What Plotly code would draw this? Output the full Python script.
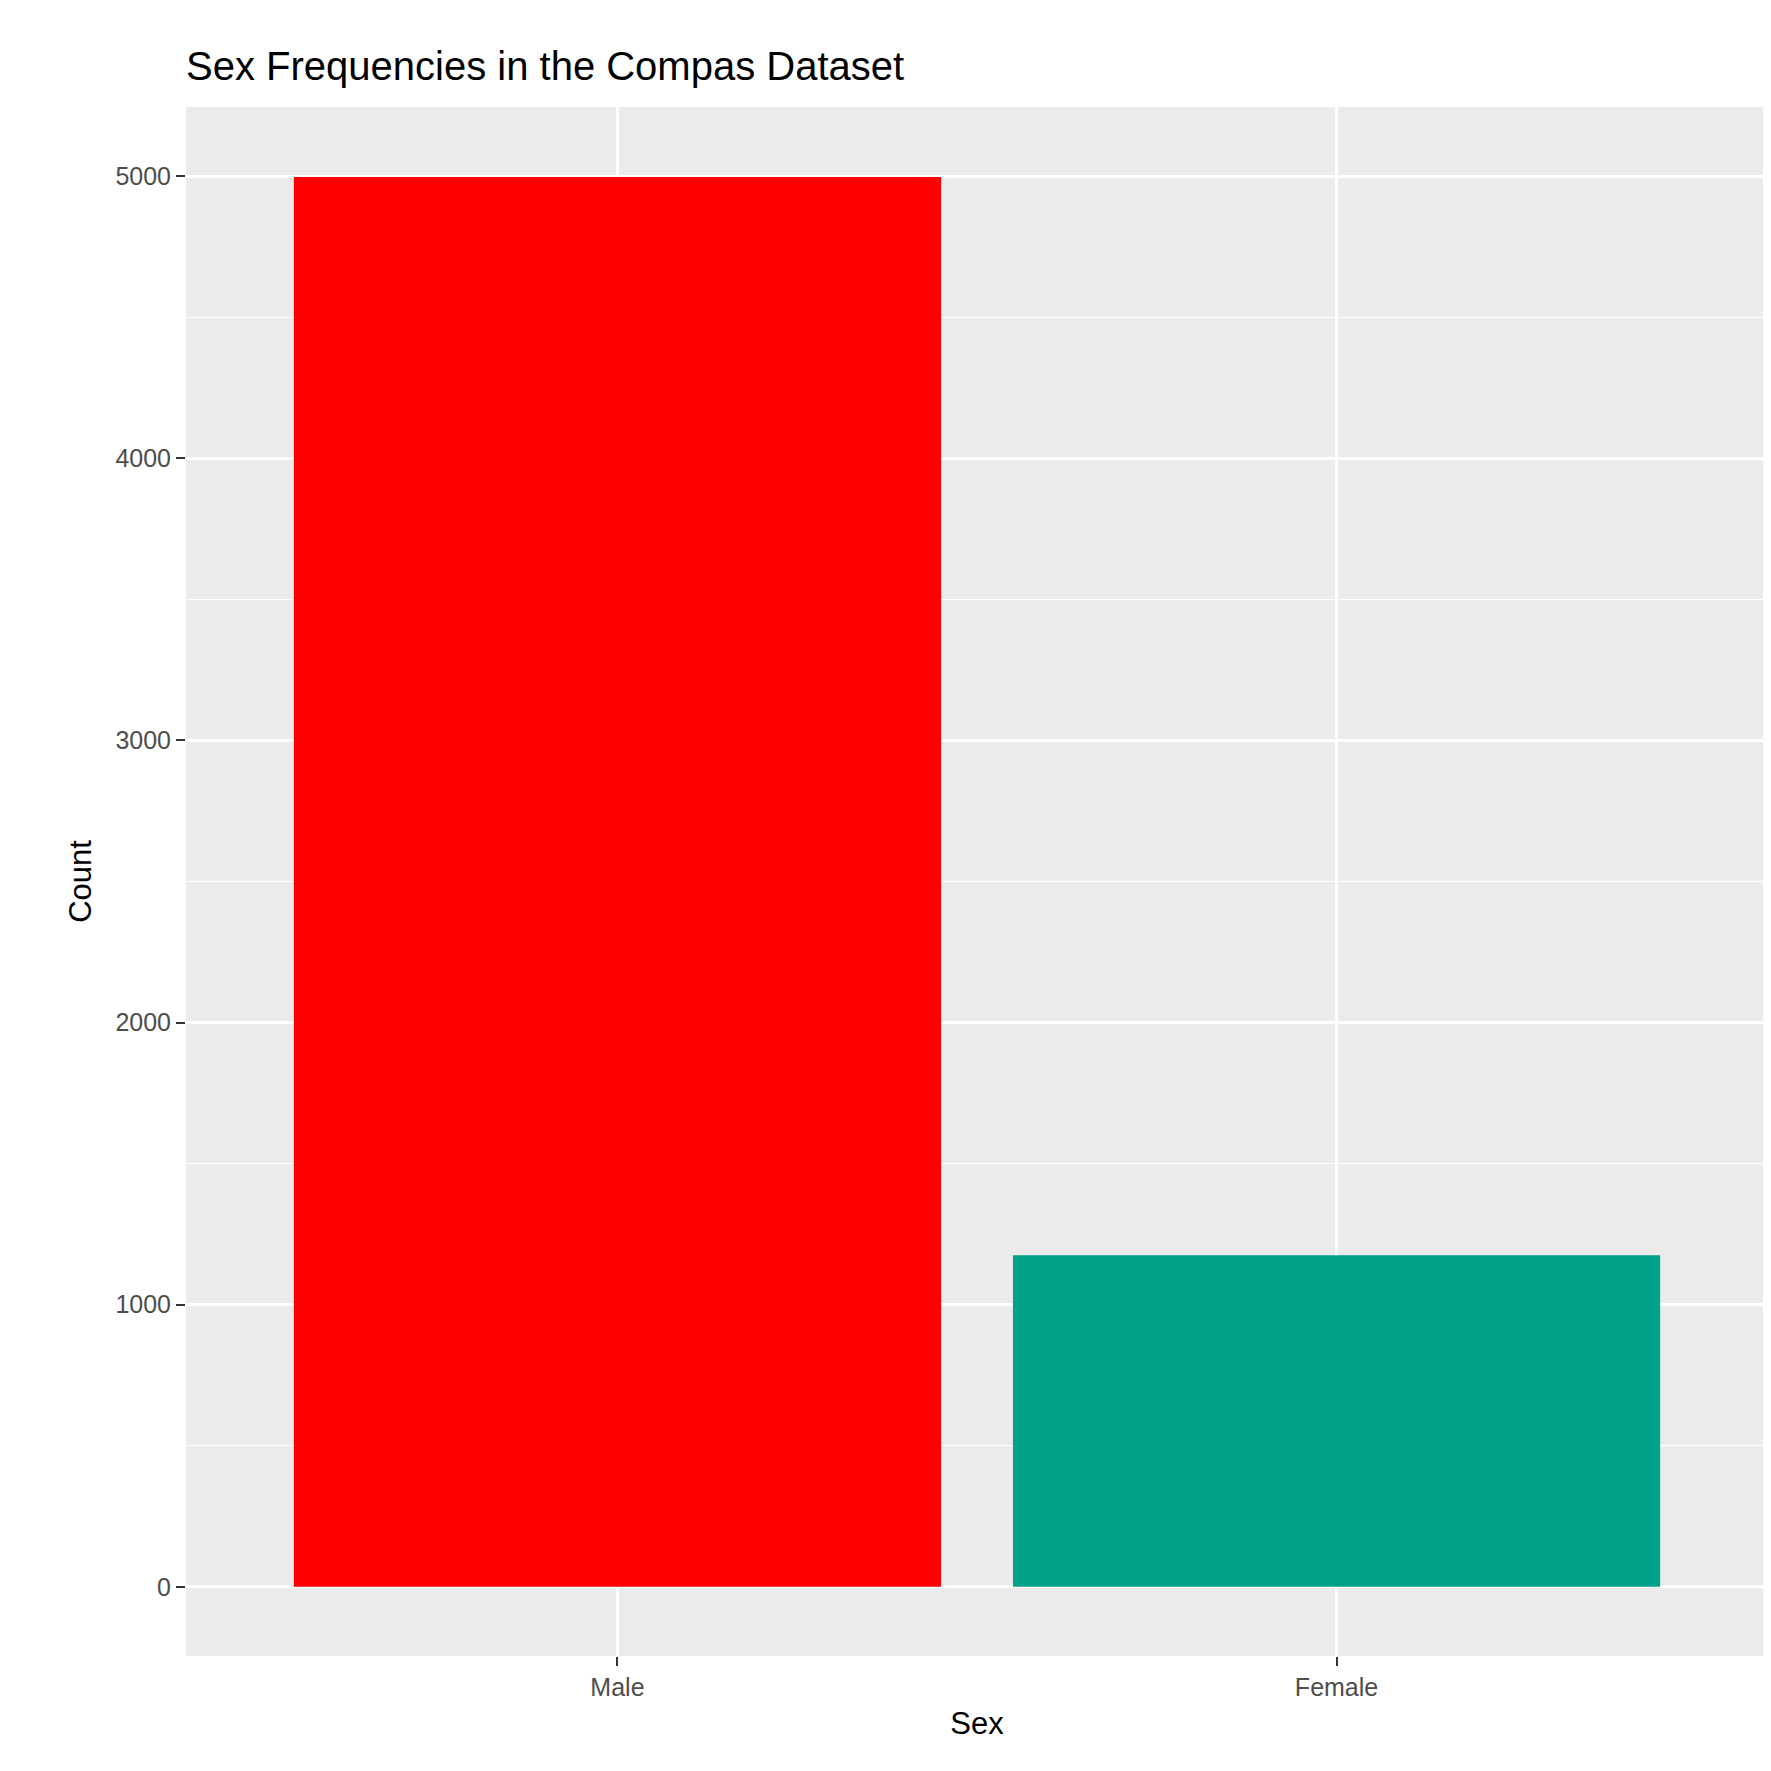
import plotly.graph_objects as go

sexes = ["Male", "Female"]
counts = [4997, 1175]
bar_colors = ["#FF0000", "#00A38A"]

fig = go.Figure()
fig.add_trace(go.Bar(x=sexes, y=counts, marker_color=bar_colors,
                     marker_line_width=0, width=0.9, showlegend=False))

fig.update_layout(
    width=1771, height=1771,
    margin=dict(l=178, r=11, t=99, b=123),
    paper_bgcolor="white", plot_bgcolor="#EBEBEB",
    font=dict(family="Liberation Sans, Arial", color="black"),
    title=dict(text="Sex Frequencies in the Compas Dataset", x=178/1771, xanchor="left",
               y=0.975, yanchor="top", font=dict(size=40)),
)
fig.update_xaxes(title=dict(text="Sex", font=dict(size=31), standoff=12),
                 range=[-0.6, 1.6], showgrid=True, gridcolor="white", gridwidth=2.5,
                 ticks="outside", ticklen=9, tickwidth=2, tickcolor="#333333",
                 tickfont=dict(size=25, color="#4D4D4D"), zeroline=False)
fig.update_yaxes(title=dict(text="Count", font=dict(size=31), standoff=14),
                 range=[-245, 5245], tickvals=[0, 1000, 2000, 3000, 4000, 5000],
                 showgrid=True, gridcolor="white", gridwidth=2.5,
                 minor=dict(tickvals=[500, 1500, 2500, 3500, 4500], showgrid=True,
                            gridcolor="white", gridwidth=1.2),
                 ticks="outside", ticklen=9, tickwidth=2, tickcolor="#333333",
                 tickfont=dict(size=25, color="#4D4D4D"), zeroline=False)

fig.write_html("out.html")
